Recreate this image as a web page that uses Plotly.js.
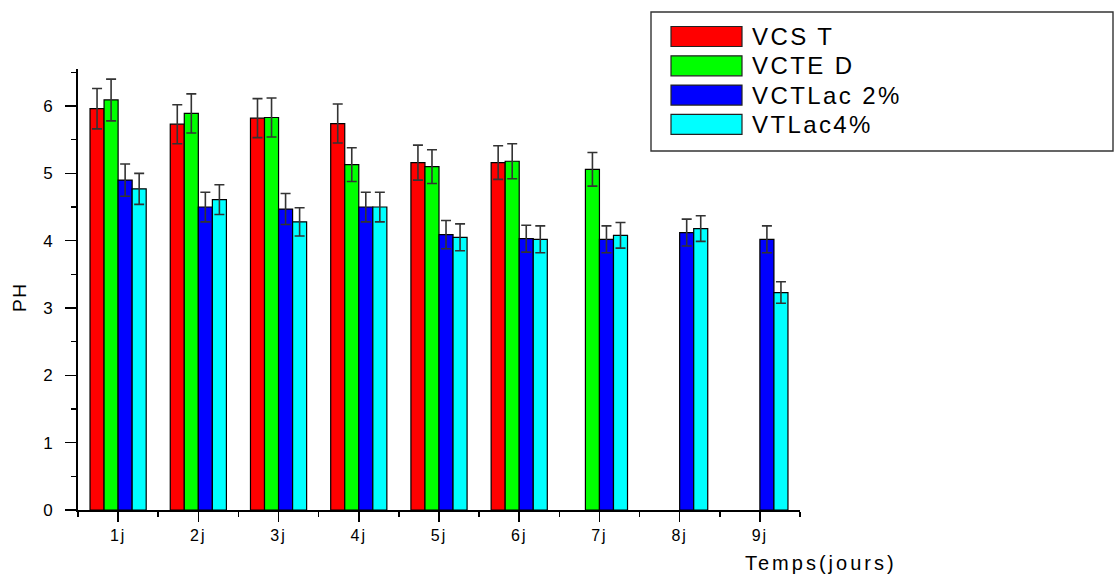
<!DOCTYPE html>
<html>
<head>
<meta charset="utf-8">
<script src="https://cdn.plot.ly/plotly-3.0.1.min.js"></script>
<style>
  html, body { margin: 0; padding: 0; background: #fff; }
  #chart { width: 1115px; height: 575px; }
  .xtick text { letter-spacing: 2px; }
</style>
</head>
<body>
<div id="chart"></div>
<script>
// pH over storage time (days) for four formulations, mean ± SD
const categories = ['1j', '2j', '3j', '4j', '5j', '6j', '7j', '8j', '9j'];

const seriesNames = ['VCS T', 'VCTE D', 'VCTLac 2%', 'VTLac4%'];
const seriesColors = ['#ff0000', '#00ff00', '#0000ff', '#00ffff'];

const vcsT      = [5.96, 5.73, 5.82, 5.74, 5.16, 5.16, null, null, null];
const vcsTErr   = [0.30, 0.29, 0.29, 0.29, 0.26, 0.25, null, null, null];
const vcteD     = [6.09, 5.89, 5.83, 5.13, 5.10, 5.18, 5.06, null, null];
const vcteDErr  = [0.31, 0.29, 0.29, 0.25, 0.25, 0.26, 0.25, null, null];
const vctLac2   = [4.90, 4.50, 4.47, 4.50, 4.09, 4.03, 4.02, 4.12, 4.02];
const vctLac2Err= [0.24, 0.22, 0.23, 0.22, 0.21, 0.20, 0.20, 0.20, 0.20];
const vtLac4    = [4.77, 4.61, 4.28, 4.50, 4.05, 4.02, 4.08, 4.18, 3.23];
const vtLac4Err = [0.23, 0.22, 0.21, 0.22, 0.20, 0.20, 0.19, 0.19, 0.16];

const seriesValues = [vcsT, vcteD, vctLac2, vtLac4];
const seriesErrors = [vcsTErr, vcteDErr, vctLac2Err, vtLac4Err];

// page geometry
const W = 1115, H = 575;
const M = { l: 78, r: 315, t: 69, b: 65 };
const px2x = p => (p - M.l) / (W - M.l - M.r);
const px2y = p => (H - M.b - p) / (H - M.t - M.b);

const FONT = 'Liberation Sans, Arial, sans-serif';
const xIdx = categories.map((_, i) => i);
const spaced = (txt, s) => '<span style="letter-spacing:' + s + 'px">' + txt + '</span>';

const traces = seriesNames.map((name, k) => ({
  type: 'bar',
  name: name,
  x: xIdx,
  y: seriesValues[k],
  marker: { color: seriesColors[k], line: { color: '#000', width: 1.2 } },
  error_y: {
    type: 'data', array: seriesErrors[k], visible: true,
    color: '#333', thickness: 1.6, width: 5
  },
  hoverinfo: 'x+y'
}));

// hand-built legend box with wide swatches
const shapes = [{
  type: 'rect', xref: 'paper', yref: 'paper',
  x0: px2x(651), x1: px2x(1113), y0: px2y(151), y1: px2y(12),
  line: { color: '#333', width: 1.4 }, fillcolor: 'rgba(0,0,0,0)'
}];
const annotations = [];
const rowTop = 26.5, rowPitch = 29.3, swH = 20;
seriesNames.forEach((name, k) => {
  const top = rowTop + k * rowPitch;
  shapes.push({
    type: 'rect', xref: 'paper', yref: 'paper',
    x0: px2x(671), x1: px2x(742), y0: px2y(top + swH), y1: px2y(top),
    fillcolor: seriesColors[k], line: { color: '#222', width: 1.2 }
  });
  annotations.push({
    xref: 'paper', yref: 'paper', x: px2x(750), y: px2y(top + swH / 2),
    xanchor: 'left', yanchor: 'middle', showarrow: false,
    text: spaced(name, 2.4), font: { family: FONT, size: 24, color: '#000' }
  });
});

// axis titles
annotations.push({
  xref: 'paper', yref: 'paper', x: px2x(821), y: px2y(563),
  xanchor: 'center', yanchor: 'middle', showarrow: false,
  text: spaced('Temps(jours)', 3), font: { family: FONT, size: 20, color: '#000' }
});
annotations.push({
  xref: 'paper', yref: 'paper', x: px2x(19), y: px2y(298),
  xanchor: 'center', yanchor: 'middle', showarrow: false, textangle: -90,
  text: spaced('PH', 1.5), font: { family: FONT, size: 19, color: '#000' }
});

const layout = {
  width: W, height: H,
  margin: M,
  paper_bgcolor: '#fff', plot_bgcolor: '#fff',
  showlegend: false,
  barmode: 'group', bargap: 0.30, bargroupgap: 0,
  font: { family: FONT, color: '#000' },
  xaxis: {
    range: [-0.5, 8.5], tickmode: 'array', tickvals: xIdx, ticktext: categories,
    ticks: 'outside', ticklen: 10, tickwidth: 1.5, tickcolor: '#000',
    showline: true, linecolor: '#000', linewidth: 1.5,
    showgrid: false, zeroline: false,
    tickfont: { family: FONT, size: 16, color: '#000' },
    minor: {
      tickmode: 'array', tickvals: xIdx.map(i => i - 0.5).concat([xIdx.length - 0.5]),
      ticks: 'outside', ticklen: 5, tickwidth: 1.5, tickcolor: '#000', showgrid: false
    },
    fixedrange: true
  },
  yaxis: {
    range: [0, 6.55], tick0: 0, dtick: 1,
    ticks: 'outside', ticklen: 11, tickwidth: 1.5, tickcolor: '#000',
    ticklabelstandoff: 9,
    showline: true, linecolor: '#000', linewidth: 2,
    showgrid: false, zeroline: false,
    tickfont: { family: FONT, size: 17, color: '#000' },
    minor: { dtick: 0.5, ticks: 'outside', ticklen: 5, tickwidth: 1.5, tickcolor: '#000', showgrid: false },
    fixedrange: true
  },
  shapes: shapes,
  annotations: annotations
};

Plotly.newPlot('chart', traces, layout, { displayModeBar: false, staticPlot: true });
</script>
</body>
</html>
